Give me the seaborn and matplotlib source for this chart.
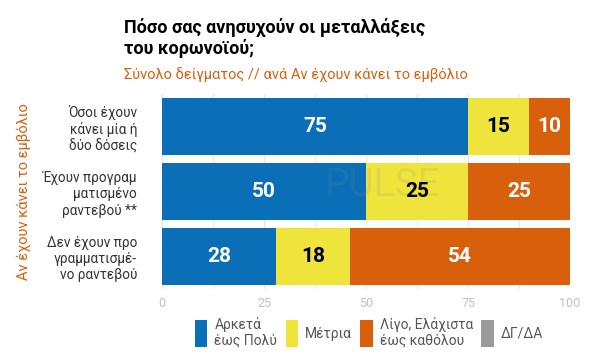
import matplotlib
matplotlib.use("Agg")
import matplotlib.pyplot as plt
import numpy as np
import pandas as pd
import seaborn as sns
from matplotlib.patches import Patch

# data
groups = [
    "Όσοι έχουν\nκάνει μία ή\nδύο δόσεις",
    "Έχουν προγραμ\nματισμένο\nραντεβού **",
    "Δεν έχουν προ\nγραμματισμέ-\nνο ραντεβού",
]
series = ["Αρκετά\nέως Πολύ", "Μέτρια", "Λίγο, Ελάχιστα\nέως καθόλου", "ΔΓ/ΔΑ"]
much = [75, 50, 28]
medium = [15, 25, 18]
little = [10, 25, 54]
dkna = [0, 0, 0]
colors = ["#0b6fb8", "#eee43c", "#d8600c", "#9a9a9a"]
text_colors = ["white", "black", "white", "white"]

sns.set_theme(style="white")
plt.rcParams["font.family"] = ["Roboto", "DejaVu Sans"]

df = pd.DataFrame({"group": groups, "much": much, "medium": medium,
                   "little": little, "dkna": dkna})
cols = ["much", "medium", "little", "dkna"]
cum = df[cols].cumsum(axis=1)

fig = plt.figure(figsize=(6, 3.63), dpi=100)
ax = fig.add_axes([0.27, 0.205, 0.68, 0.535])

# draw stacked bars from the outermost segment inwards
for i in reversed(range(len(cols))):
    sns.barplot(x=cum[cols[i]], y=df["group"], color=colors[i], width=0.88,
                orient="h", ax=ax, saturation=1, edgecolor="none")

# value labels
for r in range(len(df)):
    left = 0
    for i, c in enumerate(cols):
        v = df[c][r]
        if v > 0:
            ax.text(left + v / 2, r, f"{v}", ha="center", va="center",
                    color=text_colors[i], fontsize=15, fontweight="bold", zorder=6)
        left += v

ax.set_xlim(0, 100)
ax.set_xticks([0, 25, 50, 75, 100])
ax.set_xticks(np.arange(0, 101, 12.5), minor=True)
ax.grid(axis="x", which="both", color="#e6e6e6", linewidth=0.8)
ax.set_axisbelow(True)
for s in ax.spines.values():
    s.set_visible(False)
ax.tick_params(axis="x", colors="#c0c0c0", labelsize=9, length=0, pad=6)
ax.tick_params(axis="y", length=0, labelsize=9.8, labelcolor="#333333", pad=18)
for lbl in ax.get_yticklabels():
    lbl.set_horizontalalignment("right")
    lbl.set_multialignment("right")
ax.set_xlabel("")
ax.set_ylabel("Αν έχουν κάνει το εμβόλιο", color="#d8600c", fontsize=10.5, labelpad=8)

# faint logo watermark
ax.text(54, 0.9, "PULSE", ha="center", va="center", fontsize=28, color="#888888",
        alpha=0.15, zorder=5)

# titles
fig.text(0.207, 0.895, "Πόσο σας ανησυχούν οι μεταλλάξεις\nτου κορωνοϊού;",
         fontsize=13, fontweight="bold", color="black", va="center",
         linespacing=1.1)
fig.text(0.207, 0.795, "Σύνολο δείγματος // ανά Αν έχουν κάνει το εμβόλιο",
         fontsize=10.5, color="#d8600c", va="center")

handles = [Patch(facecolor=c, edgecolor="none") for c in colors]
leg = fig.legend(handles, series, loc="center", bbox_to_anchor=(0.615, 0.085), ncol=4,
                 frameon=False, fontsize=10, handlelength=0.9, handleheight=2.6,
                 handletextpad=0.5, columnspacing=0.6, labelcolor="#555555")
for t in leg.get_texts():
    t.set_horizontalalignment("left")
    t.set_multialignment("left")

fig.savefig("out.png", dpi=100, facecolor="white")
